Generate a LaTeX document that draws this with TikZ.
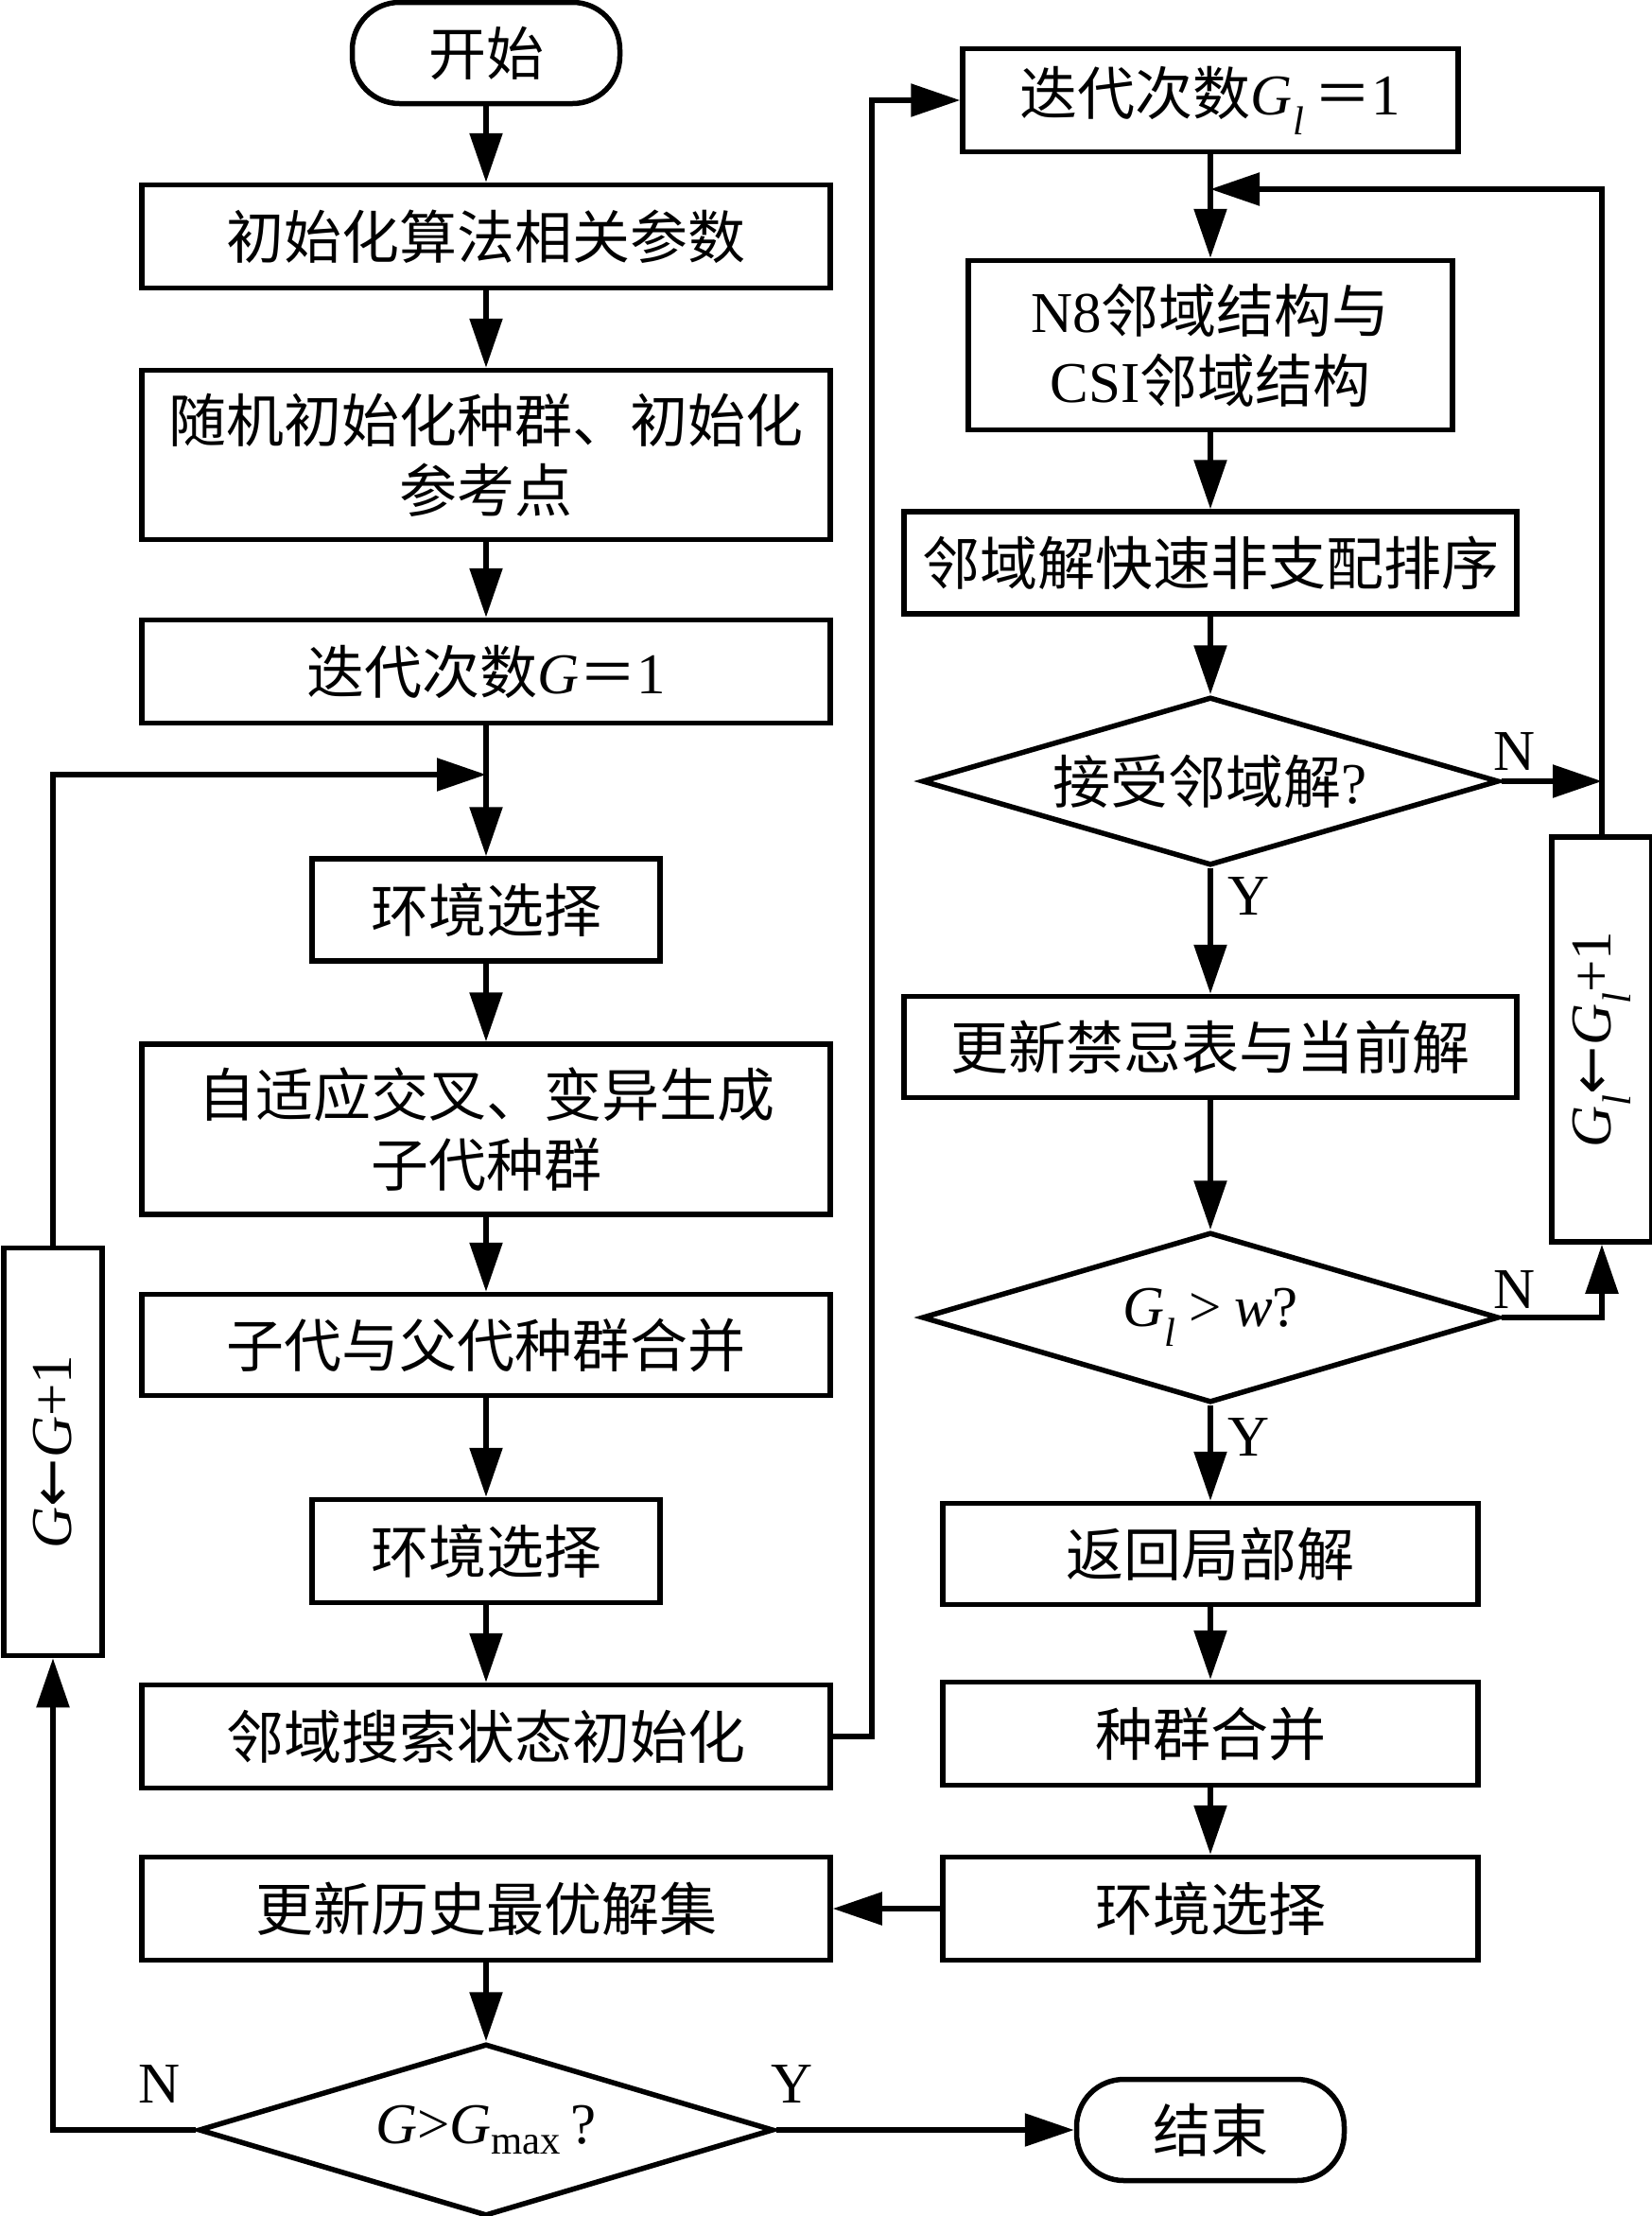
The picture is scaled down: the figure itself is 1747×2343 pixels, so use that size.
\documentclass[tikz,border=0pt]{standalone}
\usepackage{fontspec}
\usepackage{graphicx}
\setmainfont{Liberation Serif}
\newfontfamily\cjk{Noto Sans CJK SC}
\newfontfamily\symf{DejaVu Sans}
\usetikzlibrary{arrows.meta,shapes.geometric}
\newcommand\myfont{\fontsize{61}{74}\selectfont}
\newcommand\lt[1]{{\rmfamily #1}}
\newcommand\vi[1]{{\rmfamily\itshape #1}}
\newcommand\Gsub{\vi{G}\textsubscript{\vi{l}}}
\newcommand\larr{{\symf ←}}
\begin{document}
\begin{tikzpicture}[x=1pt,y=-1pt,
  box/.style={draw,line width=5.5pt,inner sep=0pt,align=center,font=\myfont\cjk},
  term/.style={box,rounded corners=50pt,minimum width=283pt,minimum height=107pt},
  dia/.style={draw,diamond,line width=5.5pt,inner sep=0pt,aspect=3.4,align=center,font=\myfont\cjk},
  lbl/.style={inner sep=0pt,font=\myfont\rmfamily},
  arr/.style={line width=5.5pt,-{Triangle[length=52pt,width=34pt]}}]
\useasboundingbox (0,0) rectangle (1747,2343);
% left column
\node[term] (start) at (514,56) {开始};
\node[box,minimum width=728pt,minimum height=109pt] (init) at (514,250) {初始化算法相关参数};
\node[box,minimum width=728pt,minimum height=179pt] (rand) at (514,481) {随机初始化种群、初始化\\参考点};
\node[box,minimum width=728pt,minimum height=109pt] (iter) at (514,710) {迭代次数\vi{G}＝\lt{1}};
\coordinate (jL) at (514,819);
\node[box,minimum width=368pt,minimum height=108pt] (env1) at (514,962) {环境选择};
\node[box,minimum width=728pt,minimum height=180pt] (adapt) at (514,1194) {自适应交叉、变异生成\\子代种群};
\node[box,minimum width=728pt,minimum height=107pt] (merge) at (514,1422) {子代与父代种群合并};
\node[box,minimum width=368pt,minimum height=109pt] (env2) at (514,1640) {环境选择};
\node[box,minimum width=728pt,minimum height=109pt] (nsinit) at (514,1836) {邻域搜索状态初始化};
\node[box,minimum width=728pt,minimum height=109pt] (hist) at (514,2018) {更新历史最优解集};
\node[dia,minimum width=608pt,minimum height=182pt] (dec) at (514,2252) {\vi{G}\lt{>}\vi{G}\textsubscript{\lt{max}}\,\lt{?}};
\node[box,minimum width=104pt,minimum height=431pt] (Gbox) at (56,1535) {\rotatebox{90}{\vi{G}\larr\vi{G}\lt{+1}}};
% right column
\node[box,minimum width=524pt,minimum height=109pt] (gl1) at (1280,106) {迭代次数\Gsub\,＝\lt{1}};
\coordinate (jR) at (1280,200);
\node[box,minimum width=512pt,minimum height=179pt] (n8) at (1280,365) {\lt{N8}邻域结构与\\\lt{CSI}邻域结构};
\node[box,minimum width=648pt,minimum height=108pt] (nds) at (1280,595) {邻域解快速非支配排序};
\node[dia,minimum width=610pt,minimum height=178pt] (acc) at (1280,826) {接受邻域解\lt{?}};
\node[box,minimum width=648pt,minimum height=107pt] (tabu) at (1280,1107) {更新禁忌表与当前解};
\node[dia,minimum width=610pt,minimum height=180pt] (gw) at (1280,1393) {\Gsub\ \lt{>}\ \vi{w}\lt{?}};
\node[box,minimum width=106pt,minimum height=428pt] (glbox) at (1694,1099) {\rotatebox{90}{\Gsub\larr\Gsub\lt{+1}}};
\node[box,minimum width=566pt,minimum height=107pt] (ret) at (1280,1643) {返回局部解};
\node[box,minimum width=566pt,minimum height=109pt] (pm) at (1280,1833) {种群合并};
\node[box,minimum width=566pt,minimum height=109pt] (env3) at (1280,2018) {环境选择};
\node[term] (end) at (1280,2252) {结束};
% labels
\node[lbl] (nA) at (1602,795) {N};
\node[lbl] (yA) at (1321,948) {Y};
\node[lbl] (nB) at (1602,1364) {N};
\node[lbl] (yB) at (1321,1520) {Y};
\node[lbl] (nC) at (169,2204) {N};
\node[lbl] (yC) at (838,2204) {Y};
% connectors
\draw[arr] (start) -- (init);
\draw[arr] (init) -- (rand);
\draw[arr] (rand) -- (iter);
\draw[arr] (iter) -- (env1);
\draw[arr] (Gbox.north) |- (jL);
\draw[arr] (env1) -- (adapt);
\draw[arr] (adapt) -- (merge);
\draw[arr] (merge) -- (env2);
\draw[arr] (env2) -- (nsinit);
\draw[arr] (nsinit.east) -- ++(41,0) |- (gl1.west);
\draw[arr] (gl1) -- (n8);
\draw[arr] (glbox.north) |- (jR);
\draw[arr] (n8) -- (nds);
\draw[arr] (nds) -- (acc);
\draw[arr] (acc.east) -- (acc.east -| glbox.north);
\draw[arr] (acc) -- (tabu);
\draw[arr] (tabu) -- (gw);
\draw[arr] (gw.east) -| (glbox.south);
\draw[arr] (gw) -- (ret);
\draw[arr] (ret) -- (pm);
\draw[arr] (pm) -- (env3);
\draw[arr] (env3) -- (hist);
\draw[arr] (hist) -- (dec);
\draw[arr] (dec.west) -| (Gbox.south);
\draw[arr] (dec) -- (end);
\end{tikzpicture}
\end{document}
